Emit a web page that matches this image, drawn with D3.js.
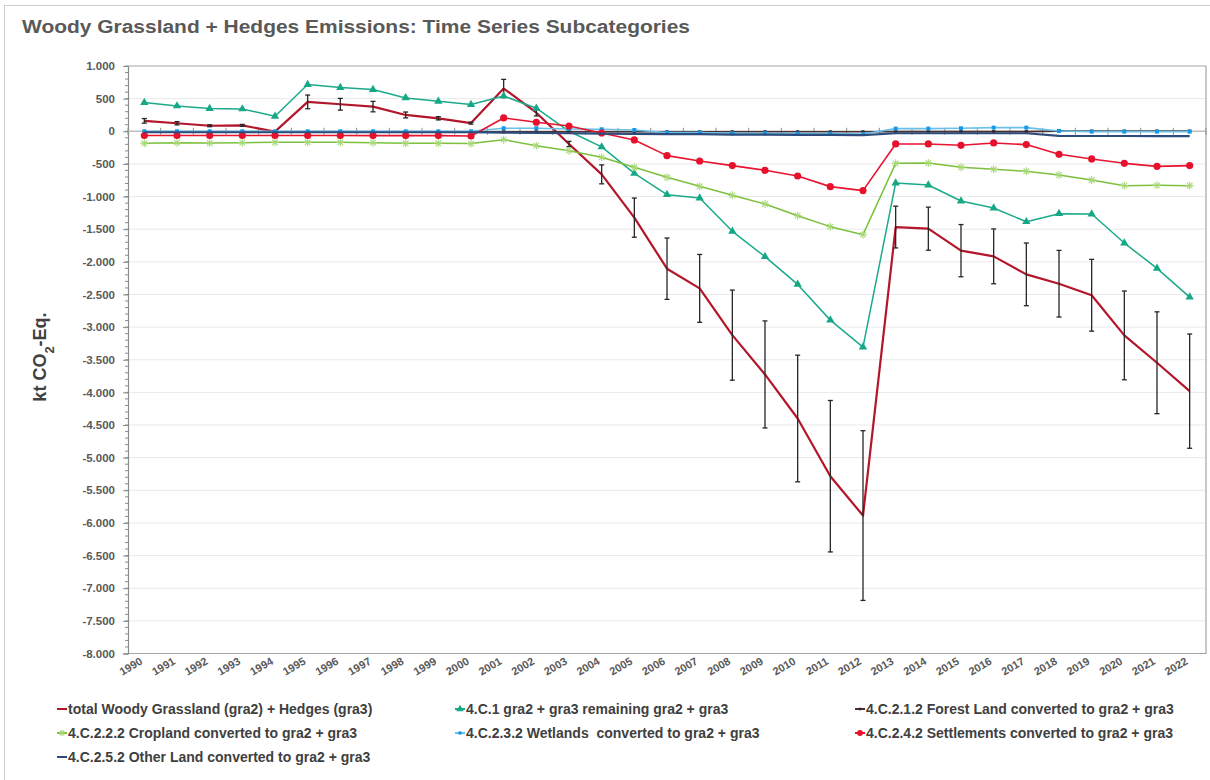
<!DOCTYPE html>
<html>
<head>
<meta charset="utf-8">
<script src="https://cdn.jsdelivr.net/npm/d3@7"></script>
<style>
  html, body { margin: 0; padding: 0; background: #fff; }
  svg { display: block; }
  .legend-label { white-space: pre; }
</style>
</head>
<body>
<svg id="chart" width="1210" height="780"></svg>
<script>
// Inventory years (category axis)
const years = ["1990","1991","1992","1993","1994","1995","1996","1997","1998","1999","2000",
  "2001","2002","2003","2004","2005","2006","2007","2008","2009","2010","2011","2012",
  "2013","2014","2015","2016","2017","2018","2019","2020","2021","2022"];

// Emissions per subcategory, kt CO2-Eq.
const totalWoody = [160, 123, 85, 90, -5, 450, 414, 378, 250, 199, 125, 655, 285, -195, -660, -1323,
  -2105, -2407, -3123, -3725, -4400, -5284, -5887, -1467, -1492, -1829, -1916, -2192, -2335, -2512,
  -3127, -3546, -3981];
const totalUncertainty = [35, 25, 15, 15, 10, 105, 90, 80, 45, 25, 15, 140, 50, 40, 145, 300,
  470, 520, 690, 820, 970, 1160, 1300, 320, 330, 400, 420, 480, 510, 550, 680, 780, 875];
const remaining = [440, 388, 348, 342, 230, 716, 670, 639, 511, 460, 409, 541, 353, 0, -240, -644,
  -971, -1022, -1533, -1921, -2346, -2893, -3307, -792, -823, -1068, -1176, -1385, -1262, -1268,
  -1712, -2100, -2540];
const forestLand = [-10, -10, -10, -10, -10, -10, -10, -10, -10, -10, -10, -8, -8, -8, -8, -8,
  -8, -8, -8, -8, -8, -8, -8, -5, -5, -5, -5, -5, 3, 3, 3, 3, 3];
const cropland = [-184, -174, -179, -174, -169, -169, -169, -174, -184, -184, -189, -128, -220, -297,
  -399, -552, -705, -843, -981, -1114, -1293, -1461, -1584, -491, -486, -552, -583, -613, -670, -747,
  -833, -828, -833];
const wetlands = [0, 0, 0, 0, 0, 0, 0, 0, 0, 0, 0, 46, 46, 36, 31, 20, -20, -20, -31, -31, -36, -36,
  -41, 41, 41, 46, 56, 56, 5, -5, -5, -5, -5];
const settlements = [-65, -65, -65, -65, -65, -65, -65, -66, -66, -66, -72, 204, 138, 81, -26, -133,
  -373, -455, -526, -598, -685, -848, -909, -194, -194, -215, -179, -204, -353, -424, -491, -537, -526];
const otherLand = [-15, -15, -15, -15, -15, -15, -15, -15, -15, -15, -15, -20, -25, -30, -35, -40,
  -45, -45, -50, -50, -55, -55, -60, -30, -30, -30, -30, -30, -70, -72, -72, -74, -75];

// Value axis ticks
const yTicks = [1000, 500, 0, -500, -1000, -1500, -2000, -2500, -3000, -3500, -4000, -4500,
  -5000, -5500, -6000, -6500, -7000, -7500, -8000];

const seriesNames = [
  "total Woody Grassland (gra2) + Hedges (gra3)",
  "4.C.1 gra2 + gra3 remaining gra2 + gra3",
  "4.C.2.1.2 Forest Land converted to gra2 + gra3",
  "4.C.2.2.2 Cropland converted to gra2 + gra3",
  "4.C.2.3.2 Wetlands  converted to gra2 + gra3",
  "4.C.2.4.2 Settlements converted to gra2 + gra3",
  "4.C.2.5.2 Other Land converted to gra2 + gra3"
];

const series = [
  { name: seriesNames[0], values: totalWoody, line: "#B3162A", width: 2.2, marker: null },
  { name: seriesNames[1], values: remaining, line: "#1BAA8A", width: 1.5, marker: "triangle", fill: "#16A886", size: 30 },
  { name: seriesNames[2], values: forestLand, line: "#4A3030", width: 1.6, marker: "square", fill: "#3A2626", size: 10 },
  { name: seriesNames[3], values: cropland, line: "#7CC03C", width: 1.5, marker: "asterisk", fill: "#A8D878", size: 4 },
  { name: seriesNames[4], values: wetlands, line: "#6AC0E6", width: 1.6, marker: "square", fill: "#1699E8", size: 16 },
  { name: seriesNames[5], values: settlements, line: "#E8132E", width: 1.6, marker: "circle", fill: "#E8112D", size: 3.6 },
  { name: seriesNames[6], values: otherLand, line: "#2D4C7C", width: 2.2, marker: null }
];

const svg = d3.select("#chart");
const W = 1210, H = 780;
const plot = { left: 128, right: 1206, top: 66, bottom: 653.5 };

const locale = d3.formatLocale({ decimal: ",", thousands: ".", grouping: [3], currency: ["", ""], minus: "-" });
const fmt = locale.format(",d");

const x = d3.scaleBand().domain(years).range([plot.left, plot.right]).padding(0);
const y = d3.scaleLinear().domain([-8000, 1000]).range([plot.bottom, plot.top]);
const cx = d => x(d) + x.bandwidth() / 2;

// outer chart frame
svg.append("rect").attr("x", 4.5).attr("y", 5.5).attr("width", W + 10).attr("height", H + 10)
  .attr("fill", "none").attr("stroke", "#d0d0d0").attr("stroke-width", 1);

// title
svg.append("text")
  .attr("x", 22).attr("y", 33)
  .attr("font-family", "'Liberation Sans', Arial, sans-serif").attr("font-weight", 700)
  .attr("font-size", 18).attr("fill", "#595959")
  .attr("textLength", 668).attr("lengthAdjust", "spacingAndGlyphs")
  .text("Woody Grassland + Hedges Emissions: Time Series Subcategories");

// horizontal gridlines
svg.append("g").selectAll("line").data(yTicks.filter(v => v !== 0 && v !== -8000 && v !== 1000)).join("line")
  .attr("x1", plot.left).attr("x2", plot.right)
  .attr("y1", d => y(d)).attr("y2", d => y(d))
  .attr("stroke", "#e9e9e9").attr("stroke-width", 1);

// plot-area border (top, right, bottom)
svg.append("path")
  .attr("d", `M${plot.left},${plot.top}H${plot.right}V${plot.bottom}H${plot.left}`)
  .attr("fill", "none").attr("stroke", "#a6a6a6").attr("stroke-width", 1.2);

// value axis with minor ticks
const minor = d3.range(-8000, 1001, 100);
svg.append("g").selectAll("line").data(minor).join("line")
  .attr("x1", plot.left - 3).attr("x2", plot.left)
  .attr("y1", d => y(d)).attr("y2", d => y(d))
  .attr("stroke", "#8c8c8c").attr("stroke-width", 1);

const yAxis = svg.append("g")
  .attr("transform", `translate(${plot.left},0)`)
  .call(d3.axisLeft(y).tickValues(yTicks).tickFormat(fmt).tickSize(5).tickPadding(8));
yAxis.select(".domain").attr("stroke", "#8c8c8c").attr("stroke-width", 1.2);
yAxis.selectAll(".tick line").attr("stroke", "#8c8c8c");
yAxis.selectAll(".tick text")
  .attr("font-family", "'Liberation Sans', Arial, sans-serif").attr("font-weight", 700)
  .attr("font-size", 11.5).attr("fill", "#595959");

// axis title
const yTitle = svg.append("text")
  .attr("transform", `translate(46,357) rotate(-90)`)
  .attr("text-anchor", "middle")
  .attr("font-family", "'Liberation Sans', sans-serif").attr("font-weight", 700)
  .attr("font-size", 18).attr("fill", "#404040");
yTitle.append("tspan").text("kt CO");
yTitle.append("tspan").attr("baseline-shift", "sub").attr("font-size", 13).text("2");
yTitle.append("tspan").text("-Eq.");

// category axis crossing at zero
const zeroY = y(0);
svg.append("line").attr("x1", plot.left).attr("x2", plot.right)
  .attr("y1", zeroY).attr("y2", zeroY)
  .attr("stroke", "#bdbdbd").attr("stroke-width", 1.6);
const boundaries = years.map(d => x(d)).concat([plot.right]);
svg.append("g").selectAll("line").data(boundaries).join("line")
  .attr("x1", d => d).attr("x2", d => d)
  .attr("y1", zeroY - 3.5).attr("y2", zeroY + 3.5)
  .attr("stroke", "#8c8c8c").attr("stroke-width", 1);

// year labels at the bottom
svg.append("g").selectAll("text").data(years).join("text")
  .attr("transform", d => `translate(${cx(d) - 1},${plot.bottom + 10}) rotate(-30)`)
  .attr("text-anchor", "end")
  .attr("font-family", "'Liberation Sans', Arial, sans-serif").attr("font-weight", 700)
  .attr("font-size", 11).attr("fill", "#595959")
  .text(d => d);

// marker drawing helper
function drawMarker(g, s, px, py, scale = 1) {
  if (s.marker === "circle") {
    g.append("circle").attr("cx", px).attr("cy", py).attr("r", s.size * scale).attr("fill", s.fill);
  } else if (s.marker === "triangle") {
    g.append("path").attr("transform", `translate(${px},${py})`)
      .attr("d", d3.symbol(d3.symbolTriangle, s.size * scale)()).attr("fill", s.fill);
  } else if (s.marker === "square") {
    const a = Math.sqrt(s.size) * scale;
    g.append("rect").attr("x", px - a / 2).attr("y", py - a / 2).attr("width", a).attr("height", a).attr("fill", s.fill);
  } else if (s.marker === "asterisk") {
    const r = s.size * scale;
    const p = [[-r, 0, r, 0], [-r * 0.7, -r * 0.7, r * 0.7, r * 0.7], [-r * 0.7, r * 0.7, r * 0.7, -r * 0.7], [0, -r, 0, r]];
    p.forEach(q => g.append("line").attr("x1", px + q[0]).attr("y1", py + q[1]).attr("x2", px + q[2]).attr("y2", py + q[3])
      .attr("stroke", s.fill).attr("stroke-width", 1.1));
  }
}

const lineGen = (vals) => d3.line().x((v, i) => cx(years[i])).y(v => y(v))(vals);

series.forEach((s, si) => {
  const g = svg.append("g");
  g.append("path").attr("d", lineGen(s.values))
    .attr("fill", "none").attr("stroke", s.line).attr("stroke-width", s.width)
    .attr("stroke-linejoin", "round");
  if (s.marker) s.values.forEach((v, i) => drawMarker(g, s, cx(years[i]), y(v)));
  if (si === 0) {
    // uncertainty bars on the total
    const eb = svg.append("g").attr("stroke", "#262626").attr("stroke-width", 1.3);
    totalWoody.forEach((v, i) => {
      const px = cx(years[i]);
      const lo = y(v - totalUncertainty[i]), hi = y(v + totalUncertainty[i]);
      eb.append("line").attr("x1", px).attr("x2", px).attr("y1", hi).attr("y2", lo);
      eb.append("line").attr("x1", px - 2.5).attr("x2", px + 2.5).attr("y1", hi).attr("y2", hi);
      eb.append("line").attr("x1", px - 2.5).attr("x2", px + 2.5).attr("y1", lo).attr("y2", lo);
    });
  }
});

// legend
const legendCols = [57, 455, 855];
const legendRows = [709, 733, 757];
const lg = svg.append("g");
series.forEach((s, i) => {
  const lx = legendCols[i % 3], ly = legendRows[Math.floor(i / 3)];
  const item = lg.append("g");
  item.append("line").attr("x1", lx).attr("x2", lx + 10).attr("y1", ly).attr("y2", ly)
    .attr("stroke", s.line).attr("stroke-width", 2);
  if (s.marker) drawMarker(item, s, lx + 5, ly, 0.8);
  item.append("text").attr("class", "legend-label").attr("x", lx + 11).attr("y", ly + 4.5)
    .attr("font-family", "'Liberation Sans', sans-serif").attr("font-weight", 700)
    .attr("font-size", 14).attr("fill", "#404040")
    .text(s.name);
});
</script>
</body>
</html>
